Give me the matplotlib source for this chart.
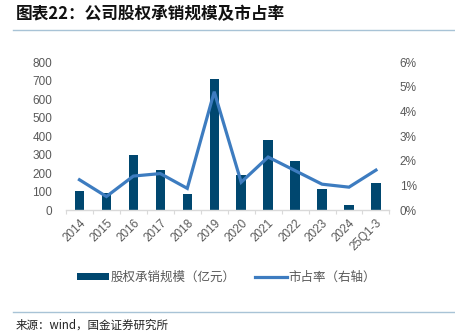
import numpy as np
import matplotlib
matplotlib.use("Agg")
import matplotlib.pyplot as plt
from matplotlib.lines import Line2D
from matplotlib.patches import Patch
from matplotlib.ticker import FuncFormatter, FixedLocator

plt.rcParams['font.family'] = ['Liberation Sans', 'Noto Sans CJK SC', 'DejaVu Sans']

# underwriting volume (100m yuan) and market share (%)
years = ["2014", "2015", "2016", "2017", "2018", "2019", "2020",
         "2021", "2022", "2023", "2024", "25Q1-3"]
volume = [104, 94, 297, 216, 88, 707, 189, 378, 267, 116, 29, 149]
share = [1.23, 0.55, 1.38, 1.48, 0.88, 4.8, 1.13, 2.15, 1.6, 1.05, 0.93, 1.62]

bar_color = "#00476f"
line_color = "#3d7cc0"
tick_color = "#595959"
rule_color = "#a8c3d6"

fig = plt.figure(figsize=(4.56, 3.34), dpi=100)
ax = fig.add_axes([0.1447, 0.371, 0.7093, 0.443])
ax2 = ax.twinx()

x = np.arange(len(years))
ax.bar(x, volume, width=0.35, color=bar_color, zorder=2)
ax2.plot(x, share, color=line_color, linewidth=2.3, solid_joinstyle="miter", zorder=3)

ax.set_xlim(-0.5, len(years) - 0.5)
ax.set_ylim(0, 800)
ax.set_yticks(range(0, 801, 100))
ax2.set_ylim(0, 6)
ax2.set_yticks(range(0, 7))
ax2.yaxis.set_major_formatter(FuncFormatter(lambda v, p: f"{v:.0f}%"))

ax.set_xticks(x)
ax.set_xticklabels(years, rotation=45, ha="right", rotation_mode="anchor")
ax.xaxis.set_minor_locator(FixedLocator(np.arange(-0.5, len(years), 1)))
ax.tick_params(axis="x", which="major", length=0, pad=5, labelsize=8.5, labelcolor=tick_color)
ax.tick_params(axis="x", which="minor", length=3, width=0.8, color="#d9d9d9")
ax.tick_params(axis="y", length=0, pad=10, labelsize=8.5, labelcolor=tick_color)
ax2.tick_params(axis="y", length=0, pad=7.5, labelsize=8.5, labelcolor=tick_color)

for a in (ax, ax2):
    for s in ("top", "left", "right", "bottom"):
        a.spines[s].set_visible(False)
ax.spines["bottom"].set_visible(True)
ax.spines["bottom"].set_color("#d9d9d9")
ax.spines["bottom"].set_linewidth(1)

# legend below the plot
handles = [Patch(facecolor=bar_color, edgecolor="none"),
           Line2D([0], [0], color=line_color, linewidth=2.3)]
fig.legend(handles, ["股权承销规模（亿元）", "市占率（右轴）"],
           loc="center", bbox_to_anchor=(0.497, 0.17), ncol=2, frameon=False,
           handlelength=2.55, handleheight=0.55, handletextpad=0.15,
           columnspacing=1.5,
           prop={"family": ["Noto Sans CJK SC"], "size": 9}, labelcolor=tick_color)

# header, source and separator rules
fig.text(0.035, 0.957, "图表22：公司股权承销规模及市占率", fontsize=12,
         family=["Noto Sans CJK SC"], fontweight="bold", style="italic",
         ha="left", va="center", color="#111111")
fig.add_artist(Line2D([0.028, 1.0], [0.91, 0.91], color=rule_color, linewidth=1))
fig.add_artist(Line2D([0.028, 1.0], [0.066, 0.066], color=rule_color, linewidth=1))
fig.text(0.035, 0.027, "来源：wind，国金证券研究所", fontsize=8.3,
         family=["Noto Sans CJK SC"], ha="left", va="center", color="#222222")

fig.savefig("out.png", dpi=100)
